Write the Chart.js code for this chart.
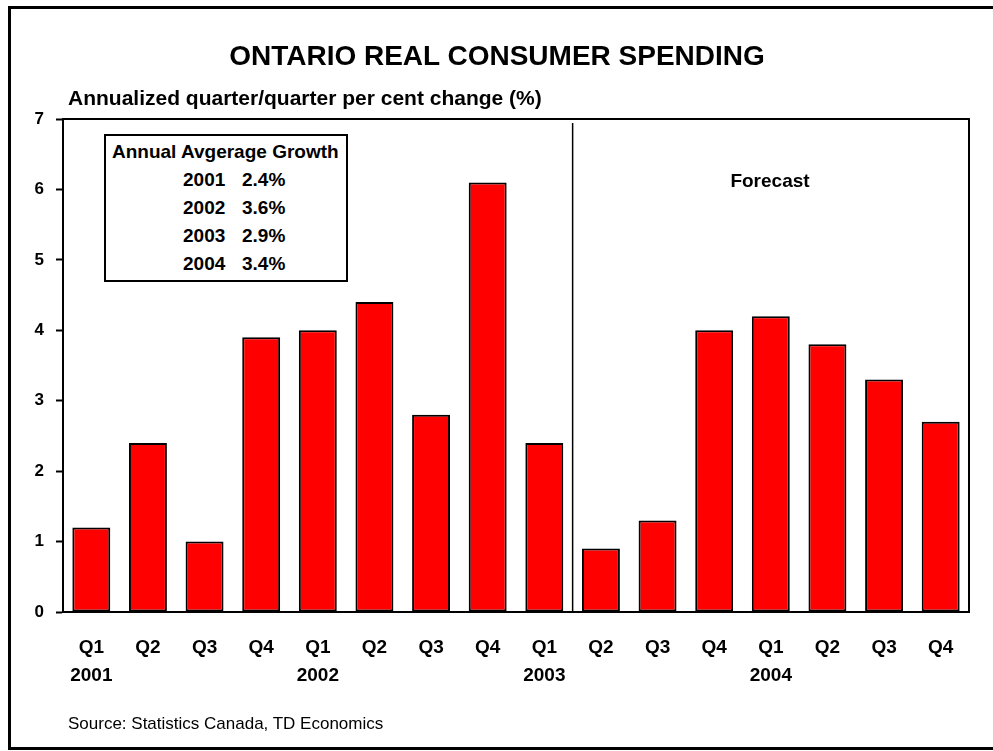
<!DOCTYPE html>
<html>
<head>
<meta charset="utf-8">
<script src="https://cdn.jsdelivr.net/npm/chart.js@4.4.1/dist/chart.umd.min.js"></script>
<style>
  html, body { margin: 0; padding: 0; background: #fff; overflow: hidden; }
  body { width: 993px; height: 751px; position: relative; font-family: "Liberation Sans", Arial, sans-serif; color: #000; }
  #frame { position: absolute; left: 8px; top: 6px; width: 1010px; height: 744px; box-sizing: border-box; border: 3px solid #000; }
  #chart { position: absolute; left: 0; top: 0; }
  .txt { position: absolute; white-space: nowrap; }
  .b { font-weight: bold; }
  #title { left: 497px; top: 42px; font-size: 28px; line-height: 28px; transform: translateX(-50%); }
  #ytitle { left: 68px; top: 87px; font-size: 21px; line-height: 21px; }
  #source { left: 68px; top: 715px; font-size: 17px; line-height: 17px; }
  #forecast { left: 770px; top: 171px; font-size: 19px; line-height: 19px; transform: translateX(-50%); }
  #avgbox { position: absolute; left: 104px; top: 134px; width: 244px; height: 148px; box-sizing: border-box; border: 2px solid #000; background: #fff; }
  .row { font-size: 19px; line-height: 19px; }
</style>
</head>
<body>
<div id="frame"></div>
<canvas id="chart" width="993" height="751"></canvas>
<div id="title" class="txt b">ONTARIO REAL CONSUMER SPENDING</div>
<div id="ytitle" class="txt b">Annualized quarter/quarter per cent change (%)</div>
<div id="avgbox"></div>
<div id="avgtext"></div>
<div id="forecast" class="txt b">Forecast</div>
<div id="source" class="txt">Source: Statistics Canada, TD Economics</div>

<script>
/* data */
const quarters = ['Q1', 'Q2', 'Q3', 'Q4', 'Q1', 'Q2', 'Q3', 'Q4', 'Q1', 'Q2', 'Q3', 'Q4', 'Q1', 'Q2', 'Q3', 'Q4'];
const years = ['2001', '', '', '', '2002', '', '', '', '2003', '', '', '', '2004', '', '', ''];
const growth = [1.2, 2.4, 1.0, 3.9, 4.0, 4.4, 2.8, 6.1, 2.4, 0.9, 1.3, 4.0, 4.2, 3.8, 3.3, 2.7];
const yMin = 0, yMax = 7, yStep = 1;
const forecastFrom = 9; // first forecast quarter (Q2 2003)

const avgTitle = 'Annual Avgerage Growth';
const avgYears = ['2001', '2002', '2003', '2004'];
const avgValues = ['2.4%', '3.6%', '2.9%', '3.4%'];

const labels = quarters.map((q, i) => years[i] ? [q, years[i]] : q);

/* inset box text */
(function paintAvgBox() {
  const root = document.getElementById('avgtext');
  let html = `<div class="txt b row" style="left:112px;top:142px">${avgTitle}</div>`;
  avgYears.forEach((y, i) => {
    const top = 170 + i * 28;
    html += `<div class="txt b row" style="left:183px;top:${top}px">${y}</div>`;
    html += `<div class="txt b row" style="left:242px;top:${top}px">${avgValues[i]}</div>`;
  });
  root.innerHTML = html;
})();

/* plot frame + forecast divider */
const framePlugin = {
  id: 'frame',
  afterDatasetsDraw(chart) {
    const { ctx, chartArea: a, scales } = chart;
    ctx.save();
    ctx.strokeStyle = '#000';
    ctx.lineWidth = 2;
    ctx.beginPath();
    ctx.moveTo(a.left, a.top); ctx.lineTo(a.right, a.top); ctx.lineTo(a.right, a.bottom);
    ctx.stroke();
    const xd = (scales.x.getPixelForValue(forecastFrom - 1) + scales.x.getPixelForValue(forecastFrom)) / 2;
    ctx.lineWidth = 1.5;
    ctx.beginPath();
    ctx.moveTo(xd, a.top + 4); ctx.lineTo(xd, a.bottom);
    ctx.stroke();
    ctx.restore();
  }
};

new Chart(document.getElementById('chart').getContext('2d'), {
  type: 'bar',
  data: {
    labels: labels,
    datasets: [{
      data: growth,
      backgroundColor: '#ff0000',
      borderColor: '#000',
      borderWidth: 2,
      borderSkipped: false,
      barPercentage: 0.67,
      categoryPercentage: 1.0,
    }]
  },
  options: {
    responsive: false,
    animation: false,
    events: [],
    layout: { padding: { top: 119, right: 24, left: 0, bottom: 0 } },
    plugins: { legend: { display: false }, tooltip: { enabled: false } },
    scales: {
      x: {
        grid: { display: false, drawTicks: false },
        border: { display: true, color: '#000', width: 2 },
        ticks: {
          color: '#000', padding: 22, maxRotation: 0, autoSkip: false,
          font: { family: '"Liberation Sans", Arial', size: 19, weight: 'bold', lineHeight: 1.47 }
        },
        afterFit(s) { s.height = 139; }
      },
      y: {
        min: yMin, max: yMax,
        grid: { display: true, drawOnChartArea: false, drawTicks: true, tickLength: 7, tickColor: '#000', tickWidth: 2 },
        border: { display: true, color: '#000', width: 2 },
        ticks: {
          stepSize: yStep, color: '#000', padding: 12,
          font: { family: '"Liberation Sans", Arial', size: 17, weight: 'bold' }
        },
        afterFit(s) { s.width = 63; }
      }
    }
  },
  plugins: [framePlugin]
});
</script>
</body>
</html>
